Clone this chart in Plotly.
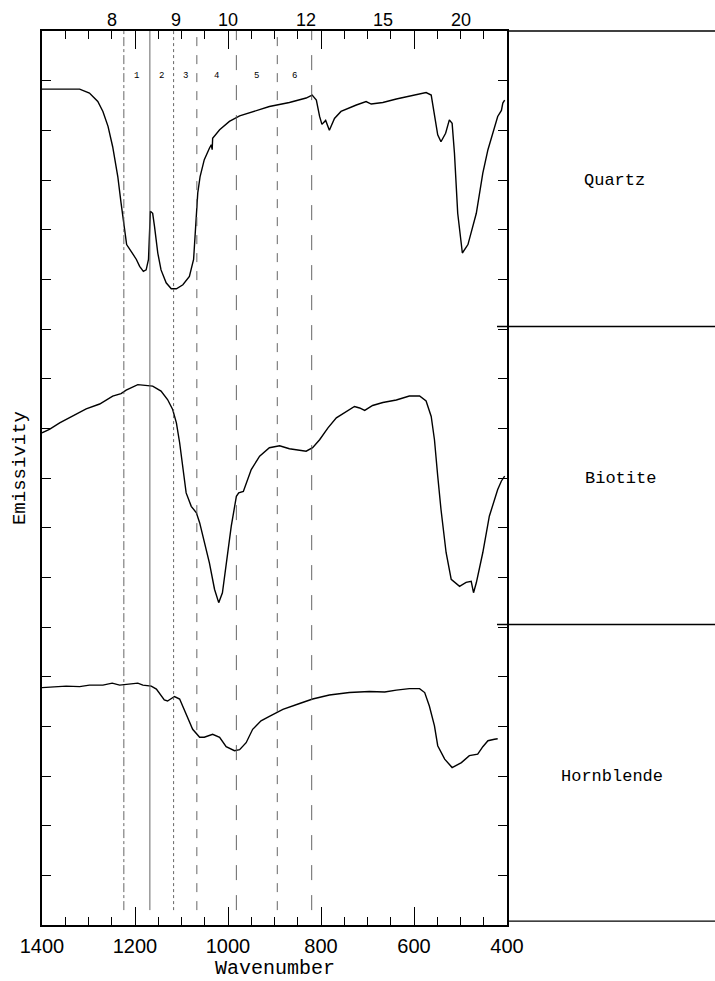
import plotly.graph_objects as go

# ---------------- data ----------------
quartz_wn = [1400, 1319, 1298, 1280, 1269, 1258, 1248, 1237, 1230, 1223, 1218, 1208, 1197, 1190,
             1182, 1176, 1171, 1167, 1162, 1158, 1151, 1144, 1133, 1122, 1111, 1097, 1083, 1074,
             1068, 1065, 1060, 1051, 1040, 1036, 1034, 1033, 1018, 997, 975, 939, 911, 868, 832,
             819, 810, 803, 798, 790, 782, 771, 757, 724, 703, 692, 667, 638, 603, 574, 563, 556,
             549, 542, 532, 524, 518, 513, 506, 496, 484, 466, 452, 441, 431, 420, 412, 409, 405]
quartz_em = [16.83, 16.83, 16.75, 16.58, 16.38, 16.08, 15.67, 15.07, 14.54, 14.00, 13.70, 13.56,
             13.40, 13.26, 13.16, 13.19, 13.40, 14.37, 14.33, 14.06, 13.53, 13.19, 12.93, 12.81,
             12.81, 12.89, 13.06, 13.40, 14.20, 14.74, 15.07, 15.41, 15.64, 15.71, 15.61, 15.84,
             16.01, 16.18, 16.29, 16.39, 16.48, 16.56, 16.65, 16.71, 16.61, 16.28, 16.12, 16.20,
             16.00, 16.24, 16.38, 16.51, 16.58, 16.53, 16.56, 16.63, 16.70, 16.76, 16.71, 16.35,
             15.91, 15.77, 15.94, 16.21, 16.14, 15.54, 14.33, 13.53, 13.70, 14.33, 15.14, 15.61,
             15.91, 16.28, 16.40, 16.55, 16.61]

biotite_wn = [1400, 1384, 1362, 1334, 1305, 1276, 1248, 1230, 1219, 1194, 1183, 1162, 1144, 1130,
              1119, 1111, 1104, 1097, 1090, 1079, 1068, 1061, 1051, 1040, 1029, 1020, 1012, 1004,
              993, 982, 977, 967, 950, 932, 911, 889, 868, 832, 818, 803, 785, 767, 746, 728, 717,
              706, 689, 667, 638, 610, 588, 574, 563, 556, 549, 542, 531, 520, 502, 488, 477, 472,
              466, 452, 438, 427, 420, 412, 405]
biotite_em = [9.91, 9.98, 10.11, 10.24, 10.39, 10.49, 10.65, 10.70, 10.77, 10.88, 10.87, 10.85,
              10.75, 10.58, 10.38, 10.11, 9.71, 9.17, 8.70, 8.43, 8.30, 8.10, 7.70, 7.29, 6.76,
              6.49, 6.69, 7.29, 8.03, 8.63, 8.70, 8.73, 9.17, 9.44, 9.61, 9.65, 9.59, 9.54, 9.61,
              9.77, 10.01, 10.21, 10.34, 10.44, 10.41, 10.36, 10.46, 10.52, 10.57, 10.65, 10.65,
              10.55, 10.24, 9.77, 9.04, 8.37, 7.50, 6.96, 6.82, 6.90, 6.92, 6.69, 6.89, 7.50, 8.23,
              8.57, 8.77, 8.94, 9.04]

hornblende_wn = [1400, 1377, 1348, 1319, 1298, 1269, 1249, 1233, 1212, 1194, 1183, 1165, 1154,
                 1137, 1130, 1115, 1104, 1090, 1076, 1061, 1051, 1033, 1018, 1004, 986, 975, 961,
                 947, 929, 911, 882, 846, 818, 782, 739, 696, 663, 638, 610, 588, 577, 567, 556,
                 549, 534, 518, 498, 481, 463, 452, 441, 427, 420]
hornblende_em = [4.78, 4.79, 4.81, 4.80, 4.83, 4.83, 4.87, 4.83, 4.85, 4.87, 4.83, 4.81, 4.75,
                 4.53, 4.51, 4.60, 4.55, 4.24, 3.94, 3.78, 3.78, 3.84, 3.78, 3.59, 3.51, 3.53,
                 3.67, 3.94, 4.11, 4.20, 4.34, 4.46, 4.55, 4.63, 4.68, 4.70, 4.69, 4.73, 4.76,
                 4.76, 4.68, 4.41, 4.01, 3.61, 3.34, 3.17, 3.27, 3.41, 3.44, 3.59, 3.71, 3.74, 3.75]

minerals = ["Quartz", "Biotite", "Hornblende"]
mineral_label_y = [15.0, 9.0, 3.0]

band_edges = [1224, 1168, 1117, 1067, 982, 894, 820]
band_names = ["1", "2", "3", "4", "5", "6"]
band_dash = ["dashdot", "solid", "dot", "dash", "longdash", "dash", "longdash"]

micron_labels = [8, 9, 10, 12, 15, 20]
x_tick_vals = [1400, 1200, 1000, 800, 600, 400]

# ---------------- figure ----------------
W, H = 715, 981
ML = 42
FONT_NUM = "Liberation Sans"
FONT_MONO = "Liberation Mono"
PW = W - ML
XDOM = 465 / PW

fig = go.Figure()
for wn, em in [(quartz_wn, quartz_em), (biotite_wn, biotite_em), (hornblende_wn, hornblende_em)]:
    fig.add_trace(go.Scatter(x=wn, y=em, mode="lines",
                             line=dict(color="black", width=1.4), showlegend=False,
                             hoverinfo="skip"))

shapes = []
for e, d in zip(band_edges, band_dash):
    shapes.append(dict(type="line", xref="x", yref="y", x0=e, x1=e, y0=0.3, y1=18,
                       line=dict(color="#555555", width=0.9, dash=d)))
# right panel frame lines
for yv in [12.05, 6.05]:
    shapes.append(dict(type="line", xref="paper", yref="y", x0=(497 - ML) / PW, x1=1,
                       y0=yv, y1=yv, line=dict(color="black", width=1.3)))
shapes.append(dict(type="line", xref="paper", yref="paper", x0=XDOM, x1=1, y0=1, y1=1,
                   line=dict(color="black", width=1.5)))
shapes.append(dict(type="line", xref="paper", yref="y", x0=XDOM, x1=1, y0=0.08, y1=0.08,
                   line=dict(color="black", width=1.3)))

ann = []
for i, name in enumerate(band_names):
    mid = (band_edges[i] + band_edges[i + 1]) / 2
    ann.append(dict(x=mid, y=17.09, xref="x", yref="y", text=name, showarrow=False,
                    xanchor="center", yanchor="middle",
                    font=dict(family=FONT_MONO, size=9, color="black")))
for m in micron_labels:
    ann.append(dict(x=10000 / m, y=1, xref="x", yref="paper", text=str(m), showarrow=False,
                    xanchor="center", yanchor="middle", yshift=11,
                    font=dict(family=FONT_NUM, size=18, color="black")))
label_x = [614, 620, 612]
for name, yv, px in zip(minerals, mineral_label_y, label_x):
    ann.append(dict(x=(px - ML) / PW, y=yv, xref="paper", yref="y", text=name,
                    xanchor="center", yanchor="middle",
                    showarrow=False, font=dict(family=FONT_MONO, size=17, color="black")))
ann.append(dict(x=900, y=0, xref="x", yref="paper", text="Wavenumber", showarrow=False,
                xanchor="center", yanchor="middle", yshift=-43,
                font=dict(family=FONT_MONO, size=20, color="black")))
ann.append(dict(x=(20 - ML) / PW, y=9.2, xref="paper", yref="y", text="Emissivity",
                showarrow=False, textangle=-90, xanchor="center", yanchor="middle",
                font=dict(family=FONT_MONO, size=19, color="black")))

fig.update_layout(
    width=W, height=H, autosize=False,
    margin=dict(l=ML, r=0, t=31, b=56, autoexpand=False),
    paper_bgcolor="white", plot_bgcolor="white",
    shapes=shapes, annotations=ann,
    xaxis=dict(domain=[0, XDOM], range=[1400, 400], showgrid=False, zeroline=False,
               tickmode="array", tickvals=x_tick_vals, ticks="inside", ticklen=18,
               tickwidth=1.2, tickcolor="black",
               minor=dict(dtick=50, ticks="inside", ticklen=8, tickwidth=1.2,
                          tickcolor="black", showgrid=False),
               showline=True, linecolor="black", linewidth=1.5, mirror="ticks",
               tickfont=dict(family=FONT_NUM, size=20, color="black"),
               ticklabelstandoff=2),
    yaxis=dict(range=[0, 18], showgrid=False, zeroline=False, dtick=1, tick0=0,
               ticks="inside", ticklen=9, tickwidth=1.2, tickcolor="black",
               showticklabels=False, showline=True, linecolor="black", linewidth=1.5,
               mirror="ticks"),
)

fig.write_html("out.html")
